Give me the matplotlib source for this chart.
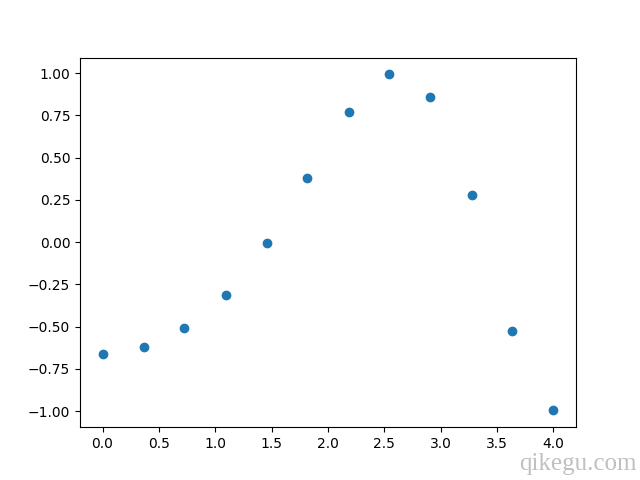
import matplotlib
matplotlib.use('Agg')
from matplotlib import pyplot as plt

x = [0.0, 0.364, 0.727, 1.091, 1.455, 1.818, 2.182, 2.545, 2.909, 3.273, 3.636, 4.0]
y = [-0.66, -0.622, -0.51, -0.315, -0.004, 0.38, 0.768, 0.993, 0.857, 0.28, -0.527, -0.995]

fig, ax = plt.subplots(figsize=(6.4, 4.8), dpi=100)
ax.scatter(x, y)

# watermark in the bottom-right corner
fig.text(0.995, 0.01, 'qikegu.com', ha='right', va='bottom',
         fontsize=18, color='#c0c0c0', family='Liberation Serif')

fig.savefig('out.png')
